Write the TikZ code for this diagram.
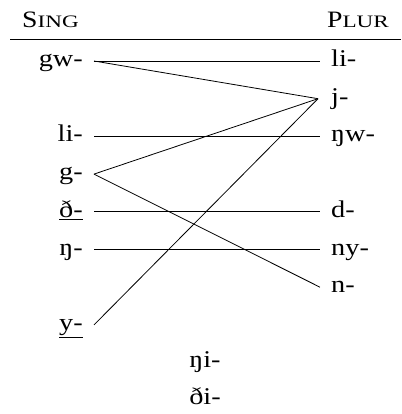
\documentclass[tikz,border=0pt]{standalone}
\usepackage{fontspec}
\setmainfont{Liberation Serif}[FakeStretch=1.18]
\begin{document}
\begin{tikzpicture}[x=1pt,y=-1pt,
  lab/.style={inner sep=0pt,font=\fontsize{24}{27}\selectfont},
  sl/.style={lab,anchor=base east},
  pl/.style={lab,anchor=base west},
  link/.style={line width=0.8pt},
  hd/.style={inner sep=0pt}]
\useasboundingbox (0,0) rectangle (401,414);
% headers
\node[hd,anchor=base west] (hsing) at (22,28) {\fontsize{23.5}{26}\selectfont S\fontsize{17.5}{20}\selectfont\scalebox{1.12}[1]{ING}};
\node[hd,anchor=base east] (hplur) at (389,28) {\fontsize{23.5}{26}\selectfont P\fontsize{17.5}{20}\selectfont\scalebox{1.12}[1]{LUR}};
\draw[line width=0.8pt] (10,39) -- (401,39);
% singular
\node[sl] (sgw) at (83,66.5) {gw-};
\node[sl] (sli) at (83,141.9) {li-};
\node[sl] (sg) at (83,179.6) {g-};
\node[sl] (sdh) at (83,217.3) {\underline{ð-}};
\node[sl] (sng) at (83,255.0) {ŋ-};
\node[sl] (sy) at (83,330.4) {\underline{y-}};
% plural
\node[pl] (pli) at (331,66.5) {li-};
\node[pl] (pj) at (331,104.2) {j-};
\node[pl] (pngw) at (331,141.9) {ŋw-};
\node[pl] (pd) at (331,217.3) {d-};
\node[pl] (pny) at (331,255.0) {ny-};
\node[pl] (pn) at (331,292.7) {n-};
% bottom
\node[lab,anchor=base] (ngi) at (205,367.5) {ŋi-};
\node[lab,anchor=base] (dhi) at (205,404.5) {ði-};
% links
\path (sgw.base east) ++(11,-5.5) coordinate (Agw);
\path (sli.base east) ++(11,-5.5) coordinate (Ali);
\path (sg.base east) ++(11,-5.5) coordinate (Ag);
\path (sdh.base east) ++(11,-5.5) coordinate (Adh);
\path (sng.base east) ++(11,-5.5) coordinate (Ang);
\path (sy.base east) ++(11,-5.5) coordinate (Ay);
\path (pli.base west) ++(-11,-5.5) coordinate (Bli);
\path (pj.base west) ++(-13,-5.5) coordinate (Bj);
\path (pngw.base west) ++(-11,-5.5) coordinate (Bngw);
\path (pd.base west) ++(-11,-5.5) coordinate (Bd);
\path (pny.base west) ++(-11,-5.5) coordinate (Bny);
\path (pn.base west) ++(-11,-5.5) coordinate (Bn);
\draw[link] (Agw) -- (Bli);
\draw[link] (Agw) -- (Bj);
\draw[link] (Ali) -- (Bngw);
\draw[link] (Ag) -- (Bj);
\draw[link] (Ag) -- (Bn);
\draw[link] (Adh) -- (Bd);
\draw[link] (Ang) -- (Bny);
\draw[link] (Ay) -- (Bj);
\end{tikzpicture}
\end{document}
